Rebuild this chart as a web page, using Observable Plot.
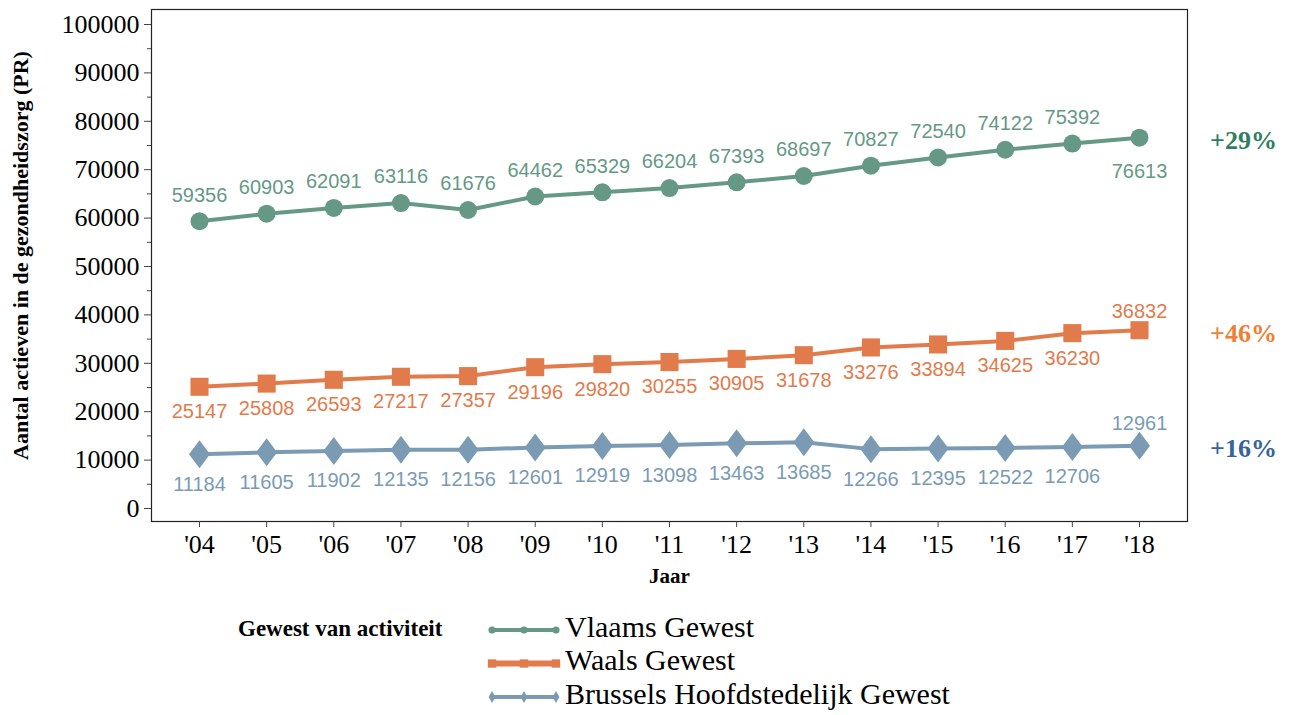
<!DOCTYPE html>
<html>
<head>
<meta charset="utf-8">
<script src="https://cdn.jsdelivr.net/npm/d3@7"></script>
<script src="https://cdn.jsdelivr.net/npm/@observablehq/plot@0.6"></script>
<style>
  body { margin: 0; background: #fff; }
  #chart { width: 1294px; }
  #legend { position: relative; width: 1294px; height: 110px; }
  #chart g[aria-label$="tick label"], #chart g[aria-label$="tick label"] text {
    font-family: 'Liberation Serif', 'Times New Roman', serif !important;
    font-variant: normal !important;
  }
</style>
</head>
<body>
<div id="chart"></div>
<div id="legend"></div>
<script>
const years = [2004, 2005, 2006, 2007, 2008, 2009, 2010, 2011, 2012, 2013, 2014, 2015, 2016, 2017, 2018];
const vlaams = [59356, 60903, 62091, 63116, 61676, 64462, 65329, 66204, 67393, 68697, 70827, 72540, 74122, 75392, 76613];
const waals = [25147, 25808, 26593, 27217, 27357, 29196, 29820, 30255, 30905, 31678, 33276, 33894, 34625, 36230, 36832];
const brussel = [11184, 11605, 11902, 12135, 12156, 12601, 12919, 13098, 13463, 13685, 12266, 12395, 12522, 12706, 12961];
const seriesNames = ["Vlaams Gewest", "Waals Gewest", "Brussels Hoofdstedelijk Gewest"];
const yTicks = [0, 10000, 20000, 30000, 40000, 50000, 60000, 70000, 80000, 90000, 100000];
const yMinorTicks = [5000, 15000, 25000, 35000, 45000, 55000, 65000, 75000, 85000, 95000];
const yLabel = "Aantal actieven in de gezondheidszorg (PR)";
const xLabel = "Jaar";
const legendTitle = "Gewest van activiteit";

const colors = ["#659985", "#e27b4b", "#7a9bb3"];
const pctColors = ["#2f7e5f", "#ee7f35", "#35659a"];

const diamond = {
  draw(ctx, size) {
    const r = Math.sqrt(size / Math.PI);
    const h = r, w = r * 0.75;
    ctx.moveTo(0, -h); ctx.lineTo(w, 0); ctx.lineTo(0, h); ctx.lineTo(-w, 0); ctx.closePath();
  }
};

const allValues = [vlaams, waals, brussel];
const rows = [];
allValues.forEach((vals, s) => {
  vals.forEach((v, i) => rows.push({series: seriesNames[s], s, year: years[i], value: v, last: i === vals.length - 1}));
});
const byS = s => rows.filter(d => d.s === s);

// label offsets: [normal, last]
const labelDy = [[-26, 34], [25, -19], [30, -22]];

const pct = allValues.map((vals, s) => ({
  s, year: years[years.length - 1], value: vals[vals.length - 1],
  text: "+" + Math.round((vals[vals.length - 1] / vals[0] - 1) * 100) + "%"
}));

const serif = "'Liberation Serif', 'Times New Roman', serif";
const sans = "'Liberation Sans', Arial, sans-serif";

const marks = [
  Plot.frame({stroke: "#222", strokeWidth: 1.2}),
  Plot.axisY({ticks: yTicks, tickSize: 7, tickPadding: 5, fontSize: 26, tickFormat: d => String(d), label: null, stroke: "#444"}),
  Plot.axisY({ticks: yMinorTicks, tickSize: 4, tickFormat: () => "", label: null, stroke: "#444"}),
  Plot.axisX({ticks: years, tickSize: 6, tickPadding: 7, fontSize: 26, label: null,
    tickFormat: d => "'" + String(d).slice(2), stroke: "#444"}),
  Plot.text([xLabel], {text: d => d, frameAnchor: "bottom", dy: 61, fontWeight: "bold", fontSize: 21, fontFamily: serif, fill: "#000"}),
  Plot.text([yLabel], {text: d => d, frameAnchor: "left", textAnchor: "middle", rotate: -90, dx: -131, dy: -10, fontWeight: "bold", fontSize: 22, fontFamily: serif, fill: "#000"})
];

const symbols = ["circle", "square", diamond];
const radii = [9, 10.2, 14];
[0, 1, 2].forEach(s => {
  const data = byS(s);
  marks.push(Plot.line(data, {x: "year", y: "value", stroke: colors[s], strokeWidth: 4}));
  marks.push(Plot.dot(data, {x: "year", y: "value", fill: colors[s], symbol: symbols[s], r: radii[s], stroke: "none"}));
  marks.push(Plot.text(data.filter(d => !d.last), {x: "year", y: "value", text: d => String(d.value), dy: labelDy[s][0], fill: colors[s], fontSize: 20, fontFamily: sans}));
  marks.push(Plot.text(data.filter(d => d.last), {x: "year", y: "value", text: d => String(d.value), dy: labelDy[s][1], fill: colors[s], fontSize: 20, fontFamily: sans}));
});
marks.push(Plot.text(pct, {x: "year", y: "value", text: "text", dx: 104, dy: 3, fill: d => pctColors[d.s], fontSize: 26, fontWeight: "bold", fontFamily: serif}));

const chart = Plot.plot({
  width: 1294,
  height: 605,
  marginLeft: 151,
  marginRight: 107,
  marginTop: 9,
  marginBottom: 84,
  x: {type: "linear", domain: [2003.285, 2018.715]},
  y: {domain: [-2686, 103100]},
  style: {background: "#fff", color: "#000", overflow: "visible", fontFamily: serif},
  marks
});
document.getElementById("chart").appendChild(chart);

// Legend below the chart
const legend = d3.select("#legend").append("svg").attr("width", 1294).attr("height", 110);
legend.append("text").attr("x", 238).attr("y", 26).attr("dominant-baseline", "middle")
  .attr("font-family", serif).attr("font-weight", "bold").attr("font-size", 23).text(legendTitle);
const legendSym = [d3.symbolCircle, d3.symbolSquare, d3.symbolDiamond];
seriesNames.forEach((name, s) => {
  const y = 25 + s * 33.5;
  const g = legend.append("g");
  g.append("line").attr("x1", 490).attr("x2", 558).attr("y1", y).attr("y2", y)
    .attr("stroke", colors[s]).attr("stroke-width", s === 1 ? 6 : 4);
  [492, 524, 556].forEach(x => {
    g.append("path").attr("transform", `translate(${x},${y})`)
      .attr("d", d3.symbol(legendSym[s], s === 1 ? 70 : 40)()).attr("fill", colors[s]);
  });
  g.append("text").attr("x", 565).attr("y", y).attr("dominant-baseline", "middle")
    .attr("font-family", serif).attr("font-size", 30).attr("fill", "#000").text(name);
});
</script>
</body>
</html>
